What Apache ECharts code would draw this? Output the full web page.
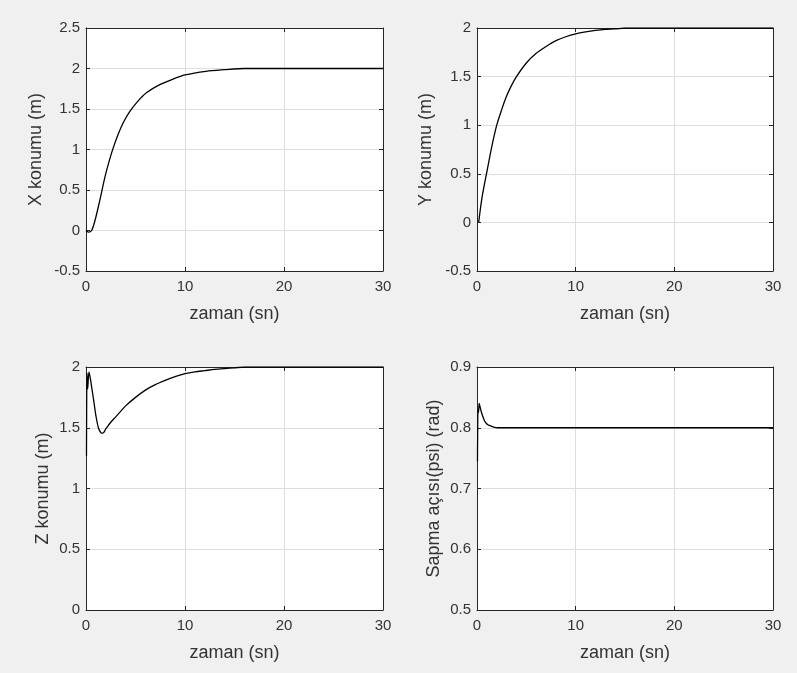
<!DOCTYPE html>
<html>
<head>
<meta charset="utf-8">
<script src="https://cdn.jsdelivr.net/npm/echarts@6/dist/echarts.min.js"></script>
<style>
  html, body { margin: 0; padding: 0; background: #f0f0f0; }
  #chart { width: 797px; height: 673px; }
</style>
</head>
<body>
<div id="chart"></div>
<script>
// time axis (sn) for all four panels
var timeTicks = [0, 10, 20, 30];

// X konumu (m)
var xTime  = [0, 0.23, 0.57, 0.9, 1.24, 1.58, 1.91, 2.42, 2.75, 3.26, 3.76, 4.43, 5.27, 6.1, 7.45, 8.8, 10, 12.1, 14, 16, 20, 25, 30];
var xValue = [0, -0.02, 0, 0.12, 0.29, 0.475, 0.66, 0.89, 1.02, 1.19, 1.33, 1.47, 1.6, 1.7, 1.8, 1.87, 1.92, 1.965, 1.985, 2.0, 2.0, 2.0, 2.0];

// Y konumu (m)
var yTime  = [0.17, 0.5, 1.0, 1.5, 2.0, 2.5, 3.0, 3.5, 4.0, 5.0, 6.0, 7.0, 8.0, 9.0, 10, 11, 12, 13, 14, 15, 20, 25, 30];
var yValue = [0, 0.25, 0.52, 0.78, 1.0, 1.16, 1.3, 1.41, 1.5, 1.64, 1.74, 1.81, 1.87, 1.91, 1.94, 1.96, 1.975, 1.985, 1.99, 2.0, 2.0, 2.0, 2.0];

// Z konumu (m)
var zTime  = [0.05, 0.1, 0.17, 0.3, 0.45, 0.6, 0.75, 1.0, 1.25, 1.5, 1.7, 2.0, 2.5, 3.0, 3.5, 4.0, 5.0, 6.0, 7.0, 8.0, 9.0, 10, 11, 12, 13, 14, 15, 16, 20, 30];
var zValue = [1.27, 1.95, 1.82, 1.96, 1.9, 1.82, 1.74, 1.6, 1.5, 1.46, 1.455, 1.49, 1.545, 1.59, 1.635, 1.68, 1.75, 1.81, 1.855, 1.89, 1.92, 1.945, 1.96, 1.97, 1.98, 1.987, 1.993, 2.0, 2.0, 2.0];

// Sapma açısı (psi) (rad)
var psiTime  = [0.05, 0.1, 0.15, 0.22, 0.3, 0.44, 0.6, 0.77, 0.95, 1.1, 1.4, 1.7, 2.1, 5, 10, 20, 30];
var psiValue = [0.745, 0.83, 0.825, 0.84, 0.835, 0.826, 0.818, 0.811, 0.807, 0.805, 0.803, 0.801, 0.8, 0.8, 0.8, 0.8, 0.8];

var panels = [
    { name: 'X konumu (m)', t: xTime, v: xValue, min: -0.5, max: 2.5, step: 0.5, gap: 41 },
    { name: 'Y konumu (m)', t: yTime, v: yValue, min: -0.5, max: 2, step: 0.5, gap: 42 },
    { name: 'Z konumu (m)', t: zTime, v: zValue, min: 0, max: 2, step: 0.5, gap: 34 },
    { name: 'Sapma açısı(psi) (rad)', t: psiTime, v: psiValue, min: 0.5, max: 0.9, step: 0.1, gap: 34 }
];

var grids = [
    { left: 86, top: 28, width: 297, height: 243 },
    { left: 477, top: 28, width: 296, height: 243 },
    { left: 86, top: 367, width: 297, height: 243 },
    { left: 477, top: 367, width: 296, height: 243 }
];

var ink = '#262626';
var font = 'Liberation Sans, Arial, sans-serif';

function pairs(t, v) {
    return t.map(function (x, i) { return [x, v[i]]; });
}

function frameAxis(extra) {
    return Object.assign({
        type: 'value',
        axisLine: { show: true, onZero: false, lineStyle: { color: ink, width: 1 } },
        axisTick: { show: true, inside: true, length: 4, lineStyle: { color: ink } },
        axisLabel: { show: false },
        splitLine: { show: false }
    }, extra);
}

var xAxes = [], yAxes = [], series = [];
panels.forEach(function (p, i) {
    xAxes.push(frameAxis({
        gridIndex: i, position: 'bottom',
        min: timeTicks[0], max: timeTicks[timeTicks.length - 1], interval: 10,
        name: 'zaman (sn)', nameLocation: 'middle', nameGap: 34,
        nameTextStyle: { color: '#333', fontSize: 18, fontFamily: font },
        axisLabel: { show: true, color: '#333', fontSize: 15, fontFamily: font, margin: 8 },
        splitLine: { show: true, lineStyle: { color: '#dedede', width: 1 } }
    }));
    xAxes.push(frameAxis({
        gridIndex: i, position: 'top', min: 0, max: 30, interval: 10
    }));
    yAxes.push(frameAxis({
        gridIndex: i, position: 'left',
        min: p.min, max: p.max, interval: p.step,
        name: p.name, nameLocation: 'middle', nameGap: p.gap,
        nameTextStyle: { color: '#333', fontSize: 18, fontFamily: font },
        axisLabel: {
            show: true, color: '#333', fontSize: 15, fontFamily: font, margin: 6,
            formatter: function (val) { return String(Math.round(val * 10) / 10); }
        },
        splitLine: { show: true, lineStyle: { color: '#dedede', width: 1 } }
    }));
    yAxes.push(frameAxis({
        gridIndex: i, position: 'right', min: p.min, max: p.max, interval: p.step
    }));
    series.push({
        type: 'line',
        xAxisIndex: i * 2, yAxisIndex: i * 2,
        data: pairs(p.t, p.v),
        showSymbol: false,
        smooth: 0.3,
        lineStyle: { color: '#000', width: 1.3 },
        animation: false
    });
});

var chart = echarts.init(document.getElementById('chart'), null, { renderer: 'canvas' });
chart.setOption({
    backgroundColor: '#f0f0f0',
    animation: false,
    grid: grids.map(function (g) {
        return Object.assign({ show: true, backgroundColor: '#fff', borderWidth: 0 }, g);
    }),
    xAxis: xAxes,
    yAxis: yAxes,
    series: series
});
</script>
</body>
</html>
